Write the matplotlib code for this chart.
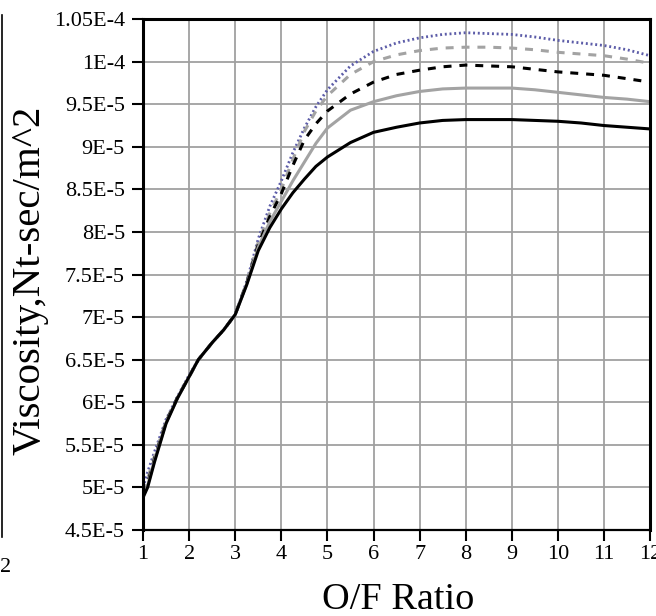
import matplotlib
matplotlib.use('Agg')
import matplotlib.pyplot as plt
from matplotlib.lines import Line2D

plt.rcParams['font.family'] = ['Liberation Serif', 'DejaVu Serif']

# O/F ratio samples and viscosity (x 1e-5 Nt-sec/m^2)
of_ratio = [1, 1.1, 1.25, 1.5, 1.75, 2, 2.2, 2.5, 2.75, 3, 3.25, 3.5, 3.75, 4, 4.25, 4.5,
            4.75, 5, 5.5, 6, 6.5, 7, 7.5, 8, 8.5, 9, 9.5, 10, 10.5, 11, 11.5, 12]

black_solid = [4.88, 5.0, 5.3, 5.75, 6.05, 6.3, 6.5, 6.7, 6.85, 7.03, 7.38, 7.78, 8.05, 8.27, 8.46, 8.62,
               8.77, 8.88, 9.05, 9.17, 9.23, 9.28, 9.31, 9.32, 9.32, 9.32, 9.31, 9.30, 9.28, 9.25, 9.23, 9.21]
gray_solid = [4.9, 5.02, 5.32, 5.76, 6.05, 6.3, 6.5, 6.7, 6.85, 7.03, 7.39, 7.82, 8.12, 8.36, 8.6, 8.82,
              9.04, 9.22, 9.43, 9.53, 9.6, 9.65, 9.68, 9.69, 9.69, 9.69, 9.67, 9.64, 9.61, 9.58, 9.56, 9.53]
black_dashed = [4.92, 5.05, 5.34, 5.77, 6.06, 6.3, 6.5, 6.7, 6.85, 7.03, 7.4, 7.85, 8.18, 8.45, 8.78, 9.08,
                9.27, 9.42, 9.62, 9.76, 9.85, 9.9, 9.94, 9.96, 9.95, 9.94, 9.91, 9.88, 9.86, 9.84, 9.8, 9.76]
gray_dashed = [4.95, 5.1, 5.37, 5.78, 6.06, 6.3, 6.5, 6.7, 6.85, 7.03, 7.41, 7.88, 8.22, 8.5, 8.85, 9.18,
               9.42, 9.6, 9.85, 10.0, 10.08, 10.13, 10.16, 10.17, 10.17, 10.16, 10.14, 10.11, 10.09, 10.07, 10.03, 9.98]
blue_dotted = [5.0, 5.18, 5.42, 5.8, 6.07, 6.32, 6.5, 6.7, 6.85, 7.03, 7.42, 7.92, 8.3, 8.6, 8.93, 9.22,
               9.47, 9.67, 9.95, 10.12, 10.22, 10.28, 10.32, 10.34, 10.33, 10.32, 10.29, 10.25, 10.22, 10.19, 10.14, 10.07]

x_ticks = list(range(1, 13))
y_ticks = [4.5e-5, 5e-5, 5.5e-5, 6e-5, 6.5e-5, 7e-5, 7.5e-5, 8e-5, 8.5e-5, 9e-5, 9.5e-5, 1e-4, 1.05e-4]
y_labels = ['4.5E-5', '5E-5', '5.5E-5', '6E-5', '6.5E-5', '7E-5', '7.5E-5', '8E-5', '8.5E-5',
            '9E-5', '9.5E-5', '1E-4', '1.05E-4']


def scaled(vals):
    return [v * 1e-5 for v in vals]


fig = plt.figure(figsize=(6.56, 6.16), dpi=100)
ax = fig.add_axes([0.218, 0.1396, 0.773, 0.8294])

ax.plot(of_ratio, scaled(blue_dotted), color='#5c5ca8', lw=2.0, linestyle=(0, (0.7, 1.0)))
ax.plot(of_ratio, scaled(gray_dashed), color='#a3a3a3', lw=2.2, dashes=(2.6, 2.6))
ax.plot(of_ratio, scaled(black_dashed), color='black', lw=2.2, dashes=(2.6, 2.6))
ax.plot(of_ratio, scaled(gray_solid), color='#a3a3a3', lw=2.2)
ax.plot(of_ratio, scaled(black_solid), color='black', lw=2.2)

ax.set_xlim(1, 12)
ax.set_ylim(4.5e-5, 1.05e-4)
ax.set_xticks(x_ticks)
ax.set_yticks(y_ticks)
ax.set_yticklabels(y_labels)
ax.grid(True, color='#a0a0a0', lw=1.3)
ax.set_axisbelow(True)
ax.tick_params(direction='out', length=8, width=1.5, labelsize=16, pad=3, colors='black')
ax.tick_params(axis='y', pad=5)
for side in ['left', 'top', 'right']:
    ax.spines[side].set_linewidth(2.2)
ax.spines['bottom'].set_linewidth(1.6)

fig.text(398 / 656, 1 - 600 / 616, 'O/F Ratio', fontsize=27.5, ha='center', va='center')
fig.text(30 / 656, 1 - 280 / 616, 'Viscosity,Nt-sec/m^2', fontsize=29.5, rotation=90,
         ha='center', va='center')

# remnant of neighbouring chart at the left edge
fig.add_artist(Line2D([2 / 656, 2 / 656], [1 - 15 / 616, 1 - 537 / 616], color='black', lw=1.2))
fig.text(6 / 656, 1 - 567 / 616, '2', fontsize=16, ha='center', va='center')

fig.savefig('out.png', dpi=100)
